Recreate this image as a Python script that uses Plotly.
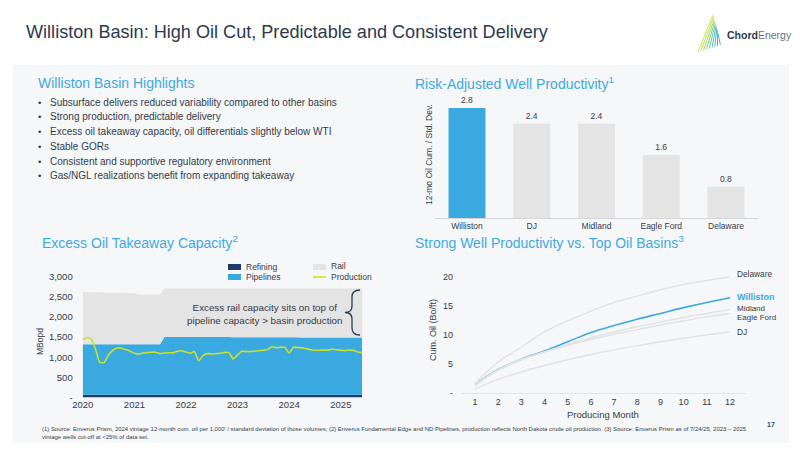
import plotly.graph_objects as go
import pandas as pd

# ---------------- data ----------------
basins = ["Williston", "DJ", "Midland", "Eagle Ford", "Delaware"]
risk_adjusted = [2.8, 2.4, 2.4, 1.6, 0.8]

months = [1, 2, 3, 4, 5, 6, 7, 8, 9, 10, 11, 12]
cum_delaware = [1.6, 5.3, 7.9, 10.5, 12.4, 14.1, 15.6, 16.7, 17.8, 18.7, 19.4, 20.0]
cum_williston = [1.4, 4.0, 5.8, 7.2, 8.8, 10.4, 11.6, 12.7, 13.7, 14.7, 15.6, 16.4]
cum_midland = [1.4, 4.0, 5.8, 7.1, 8.4, 9.5, 10.5, 11.4, 12.2, 13.0, 13.7, 14.4]
cum_eagleford = [1.2, 3.9, 5.7, 7.0, 8.2, 9.2, 10.1, 10.9, 11.7, 12.4, 13.1, 13.7]
cum_dj = [0.6, 2.3, 3.6, 4.7, 5.7, 6.6, 7.4, 8.1, 8.8, 9.4, 10.0, 10.5]

year_ticks = ["2020", "2021", "2022", "2023", "2024", "2025"]

refining = [70, 70, 70, 70, 70, 70, 70, 70, 70, 70, 70, 70,
            70, 70, 70, 70, 70, 70, 70, 70, 70, 70, 70, 70,
            70, 70, 70, 70, 70, 70, 70, 70, 70, 70, 70, 70,
            70, 70, 70, 70, 70, 70, 70, 70, 70, 70, 70, 70,
            70, 70, 70, 70, 70, 70, 70, 70, 70, 70, 70, 70,
            70, 70, 70, 70, 70, 70]
pipelines = [1250, 1250, 1250, 1250, 1250, 1250, 1250, 1250, 1250, 1250, 1250, 1250,
             1250, 1250, 1250, 1250, 1250, 1250, 1250, 1430, 1430, 1430, 1430, 1430,
             1430, 1430, 1430, 1430, 1430, 1430, 1430, 1430, 1430, 1430, 1430, 1425,
             1425, 1425, 1425, 1425, 1425, 1425, 1425, 1425, 1425, 1425, 1425, 1425,
             1425, 1425, 1425, 1420, 1420, 1420, 1420, 1420, 1420, 1420, 1420, 1420,
             1420, 1420, 1420, 1420, 1420, 1420]
rail = [1300, 1298, 1296, 1294, 1292, 1290, 1288, 1286, 1284, 1282, 1280, 1278,
        1276, 1235, 1235, 1235, 1235, 1235, 1235, 1205, 1205, 1205, 1205, 1205,
        1205, 1205, 1205, 1205, 1205, 1205, 1205, 1205, 1205, 1205, 1205, 1210,
        1210, 1210, 1210, 1210, 1210, 1210, 1210, 1210, 1210, 1210, 1210, 1210,
        1210, 1210, 1210, 1215, 1215, 1215, 1215, 1215, 1215, 1215, 1215, 1215,
        1215, 1215, 1215, 1215, 1215, 1215]
production = [1430, 1490, 1450, 1200, 870, 870, 1050, 1170, 1230, 1225, 1190, 1150,
              1100, 1080, 1105, 1115, 1125, 1125, 1090, 1105, 1110, 1110, 1150, 1160,
              1130, 1100, 1140, 910, 1040, 1090, 1080, 1085, 1100, 1120, 1115, 955,
              1060, 1150, 1140, 1140, 1150, 1160, 1175, 1190, 1260, 1235, 1250, 1245,
              1100, 1250, 1240, 1235, 1210, 1185, 1175, 1175, 1180, 1175, 1205, 1185,
              1175, 1165, 1180, 1170, 1130, 1115]
dates = pd.date_range("2020-01-01", periods=len(production), freq="MS")

# ---------------- styling ----------------
W, H = 800, 450
OFF = 8  # page offset of the plot div inside the browser window
def px(x):
    return (x - OFF) / W
def py(y):
    return 1 - (y - OFF) / H

FONT = "Liberation Sans, Arial, sans-serif"
NARROW = "Liberation Sans Narrow, Liberation Sans, Arial"
NAVY = "#2b3950"
TEXT = "#333b48"
BLUE = "#3aa9e0"
LIGHTBLUE = "#3fa9e2"
DARKNAVY = "#1d3b6b"
RAIL = "#e4e4e4"
PROD = "#c8e12a"
GRAYLINE = "#e2e2e2"

fig = go.Figure()

# takeaway stacked areas
fig.add_trace(go.Scatter(x=dates, y=refining, stackgroup="cap", mode="none",
                         fillcolor=DARKNAVY, name="Refining", xaxis="x", yaxis="y"))
fig.add_trace(go.Scatter(x=dates, y=pipelines, stackgroup="cap", mode="none",
                         fillcolor=BLUE, name="Pipelines", xaxis="x", yaxis="y"))
fig.add_trace(go.Scatter(x=dates, y=rail, stackgroup="cap", mode="none",
                         fillcolor=RAIL, name="Rail", xaxis="x", yaxis="y"))
fig.add_trace(go.Scatter(x=dates, y=production, mode="lines", name="Production",
                         line=dict(color=PROD, width=1.6, shape="spline", smoothing=0.5),
                         xaxis="x", yaxis="y"))

# bar chart
fig.add_trace(go.Bar(x=basins, y=risk_adjusted,
                     marker=dict(color=[BLUE, RAIL, RAIL, RAIL, RAIL], line=dict(width=0)),
                     text=[f"{v:.1f}" for v in risk_adjusted], textposition="outside",
                     textfont=dict(size=8.5, color=TEXT, family=FONT), cliponaxis=False,
                     xaxis="x2", yaxis="y2"))

# cumulative lines (Williston first, greys drawn over)
fig.add_trace(go.Scatter(x=months, y=cum_williston, mode="lines",
                         line=dict(color=BLUE, width=1.6, shape="spline"),
                         xaxis="x3", yaxis="y3"))
for vals in [cum_delaware, cum_midland, cum_eagleford, cum_dj]:
    fig.add_trace(go.Scatter(x=months, y=vals, mode="lines",
                             line=dict(color=GRAYLINE, width=1.4, shape="spline"),
                             xaxis="x3", yaxis="y3"))

tickf = dict(size=9.5, color=TEXT, family=FONT)

fig.update_layout(
    template="none",
    width=W, height=H,
    margin=dict(l=0, r=0, t=0, b=0, pad=0, autoexpand=False),
    paper_bgcolor="white", plot_bgcolor="rgba(0,0,0,0)",
    showlegend=False, bargap=0.43,
    font=dict(family=FONT, color=TEXT),
    xaxis=dict(domain=[px(82.7), px(362.2)], range=[dates[0], dates[-1]], type="date",
               tickvals=[f"{y}-01-01" for y in year_ticks], ticktext=year_ticks,
               showgrid=False, zeroline=False, showline=False, ticks="",
               tickfont=tickf, anchor="y", automargin=False),
    yaxis=dict(domain=[py(397.5), py(276.7)], range=[0, 3000],
               tickvals=[0, 500, 1000, 1500, 2000, 2500, 3000],
               ticktext=["-", "500", "1,000", "1,500", "2,000", "2,500", "3,000"],
               showgrid=False, zeroline=False, showline=False, ticks="",
               ticklabelstandoff=9, tickfont=tickf, anchor="x", automargin=False),
    xaxis2=dict(domain=[px(434.6), px(758.4)], showline=True, linecolor="#d6d6d6",
                linewidth=1, ticks="", showgrid=False, zeroline=False,
                tickfont=dict(size=8.5, color=TEXT, family=FONT), anchor="y2",
                automargin=False),
    yaxis2=dict(domain=[py(218), py(92.2)], range=[0, 3.2], visible=False, anchor="x2",
                automargin=False),
    xaxis3=dict(domain=[px(461.1), px(746.2)], range=[0.4, 12.7], tickvals=months,
                showline=True, linecolor="#e3e3e3", ticks="", showgrid=False,
                zeroline=False, tickfont=dict(size=9, color=TEXT, family=FONT), anchor="y3",
                automargin=False),
    yaxis3=dict(domain=[py(392.7), py(271.2)], range=[0, 21],
                tickvals=[0, 5, 10, 15, 20], ticktext=["-", "5", "10", "15", "20"],
                showgrid=False, zeroline=False, showline=False, ticks="",
                ticklabelstandoff=7, tickfont=dict(size=9, color=TEXT, family=FONT),
                anchor="x3", automargin=False),
)

shapes = []
# panel
shapes.append(dict(type="rect", xref="paper", yref="paper", x0=px(13), x1=px(789),
                   y0=py(443), y1=py(65), fillcolor="#f6f7f9", line=dict(width=0),
                   layer="below"))
# takeaway legend swatches
for (x0, y0, c) in [(228, 264, DARKNAVY), (228, 274, BLUE), (313, 264, RAIL)]:
    shapes.append(dict(type="rect", xref="paper", yref="paper", x0=px(x0), x1=px(x0 + 13),
                       y0=py(y0 + 6), y1=py(y0), fillcolor=c, line=dict(width=0)))
shapes.append(dict(type="line", xref="paper", yref="paper", x0=px(313), x1=px(326),
                   y0=py(277), y1=py(277), line=dict(color=PROD, width=1.6)))

# brace
def P(x, y):
    return f"{px(x):.5f},{py(y):.5f}"
brace = (f"M{P(360,290)} Q{P(352,290)} {P(352,297)} L{P(352,306)} "
         f"Q{P(352,312.5)} {P(345,312.5)} Q{P(352,312.5)} {P(352,319)} "
         f"L{P(352,328)} Q{P(352,335)} {P(360,335)}")
shapes.append(dict(type="path", xref="paper", yref="paper", path=brace,
                   line=dict(color=NAVY, width=1.3)))

# logo icon (fan of lines)
logo_cols = ["#c9e22b", "#b2dd3c", "#94d553", "#74cc6e", "#5ac28c", "#45b8aa",
             "#38afc6", "#35a6dc", "#3a9ee6"]
for i, c in enumerate(logo_cols):
    shapes.append(dict(type="line", xref="paper", yref="paper",
                       x0=px(713 + i * 0.6), y0=py(15 + i * 2.2),
                       x1=px(698 + i * 2.8), y1=py(52 - i * 0.9),
                       line=dict(color=c, width=0.9)))
fig.update_layout(shapes=shapes)

ann = []
def A(x, y, text, size, color=TEXT, xanchor="left", bold=False, family=FONT, **kw):
    ann.append(dict(x=px(x), y=py(y), xref="paper", yref="paper", text=text,
                    showarrow=False, xanchor=xanchor, yanchor="middle",
                    borderpad=0, borderwidth=0,
                    font=dict(size=size, color=color, family=family,
                              weight="bold" if bold else "normal"), **kw))

# title & logo
A(26, 32, "Williston Basin: High Oil Cut, Predictable and Consistent Delivery", 18.1, NAVY)
A(727, 35, "<b>Chord</b><span style='color:#6b7380'>Energy</span>", 10.5, NAVY)

# section headers
A(38, 83, "Williston Basin Highlights", 14, LIGHTBLUE)
A(415, 83, "Risk-Adjusted Well Productivity<sup>1</sup>", 14, LIGHTBLUE)
A(42, 242, "Excess Oil Takeaway Capacity<sup>2</sup>", 14, LIGHTBLUE)
A(415, 242, "Strong Well Productivity vs. Top Oil Basins<sup>3</sup>", 14, LIGHTBLUE)

bullets = [
    "Subsurface delivers reduced variability compared to other basins",
    "Strong production, predictable delivery",
    "Excess oil takeaway capacity, oil differentials slightly below WTI",
    "Stable GORs",
    "Consistent and supportive regulatory environment",
    "Gas/NGL realizations benefit from expanding takeaway",
]
for i, b in enumerate(bullets):
    yy = 102 + i * 14.8
    A(38, yy, "•", 9.5)
    A(50, yy, b, 10)

# axis titles
A(429, 155, "12-mo Oil Cum. / Std. Dev.", 8.5, xanchor="center", textangle=-90)
A(40, 342, "MBopd", 8.5, xanchor="center", textangle=-90)
A(433, 330, "Cum. Oil (Bo/ft)", 9, xanchor="center", textangle=-90)
A(603, 414, "Producing Month", 9.5, xanchor="center")

# takeaway legend text
A(246, 267, "Refining", 8.5)
A(246, 277, "Pipelines", 8.5)
A(331, 266, "Rail", 8.5)
A(331, 277, "Production", 8.5)
A(265, 313.5, "Excess rail capacity sits on top of<br>pipeline capacity > basin production", 9.8,
  xanchor="center")

# line labels
A(737, 274, "Delaware", 8.3)
A(737, 297, "Williston", 9, BLUE, bold=True)
A(737, 308.5, "Midland", 8)
A(737, 317.5, "Eagle Ford", 8)
A(737, 332, "DJ", 8.3)

# footnotes
A(42, 429, "(1) Source: Enverus Prism, 2024 vintage 12-month cum. oil per 1,000' / standard deviation of those volumes; (2) Enverus Fundamental Edge and ND Pipelines, production reflects North Dakota crude oil production. (3) Source: Enverus Prism as of 7/24/25, 2023 \u2013 2025", 5.95,
  family=NARROW)
A(42, 437, "vintage wells cut-off at <25% of data set.", 5.95, family=NARROW)
A(771, 424, "17", 7, "#2a4a7a", xanchor="center", bold=True)

fig.update_layout(annotations=ann)
fig.write_html("out.html")
